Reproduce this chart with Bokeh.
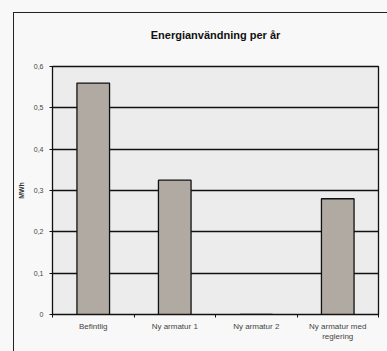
from bokeh.plotting import figure
from bokeh.models import FixedTicker, CustomJSTickFormatter, Range1d, Title
from bokeh.embed import file_html
from bokeh.resources import INLINE

# Annual energy use per lighting alternative (MWh)
title_text = "Energianvändning per år"
categories = ["Befintlig", "Ny armatur 1", "Ny armatur 2", "Ny armatur med\nreglering"]
energy_mwh = [0.56, 0.325, 0.0, 0.28]
y_ticks = [0.0, 0.1, 0.2, 0.3, 0.4, 0.5, 0.6]

positions = [i + 0.5 for i in range(len(categories))]
boundaries = [float(i) for i in range(len(categories) + 1)]

p = figure(
    width=374, height=339, title=None,
    output_backend="svg", toolbar_location=None,
    x_range=Range1d(0, len(categories)), y_range=Range1d(0, 0.6),
    min_border_left=35, min_border_right=10, min_border_top=53, min_border_bottom=38,
    background_fill_color="#ececec", border_fill_color="#f8f8f8",
)
p.margin = (12, 0, 0, 13)
p.styles = {"border-left": "1.5px solid #222", "border-top": "1.5px solid #222"}

# empty strip between the title and the plot area, then the title itself
p.add_layout(Title(text=" ", text_font_size="1px", standoff=10), "above")
p.add_layout(Title(
    text=title_text, align="center", standoff=26,
    text_font="Liberation Sans", text_font_style="bold",
    text_font_size="11px", text_color="#111111",
), "above")

p.outline_line_color = "#111111"
p.outline_line_width = 1.3

# gridlines
p.xgrid.grid_line_color = None
p.ygrid.ticker = FixedTicker(ticks=y_ticks)
p.ygrid.grid_line_color = "#111111"
p.ygrid.grid_line_width = 1.3

p.vbar(x=positions, top=energy_mwh, width=0.4,
       fill_color="#b1aaa3", line_color="#111111", line_width=1.3)

# y axis
p.yaxis.ticker = FixedTicker(ticks=y_ticks)
p.yaxis.formatter = CustomJSTickFormatter(
    code='return tick === 0 ? "0" : tick.toFixed(1).replace(".", ",");')
p.yaxis.axis_label = "MWh"
p.yaxis.axis_label_text_font = "Liberation Sans"
p.yaxis.axis_label_text_font_size = "7px"
p.yaxis.axis_label_text_font_style = "bold"
p.yaxis.axis_label_text_color = "#333333"
p.yaxis.axis_label_standoff = 6
p.yaxis.major_label_text_font = "Liberation Sans"
p.yaxis.major_label_text_font_size = "7px"
p.yaxis.major_label_text_color = "#444444"
p.yaxis.major_label_standoff = 6
p.yaxis.major_tick_out = 3
p.yaxis.major_tick_in = 0
p.yaxis.minor_tick_line_color = None
p.yaxis.axis_line_color = "#111111"
p.yaxis.major_tick_line_color = "#111111"

# x axis: labels at bar centres, tick marks at category boundaries
p.xaxis.ticker = FixedTicker(ticks=positions, minor_ticks=boundaries)
p.xaxis.major_label_overrides = {pos: lab for pos, lab in zip(positions, categories)}
p.xaxis.major_label_text_font = "Liberation Sans"
p.xaxis.major_label_text_font_size = "8px"
p.xaxis.major_label_text_color = "#444444"
p.xaxis.major_label_standoff = 4
p.xaxis.major_tick_out = 0
p.xaxis.major_tick_in = 0
p.xaxis.minor_tick_out = 3
p.xaxis.minor_tick_in = 0
p.xaxis.minor_tick_line_color = "#111111"
p.xaxis.axis_line_color = "#111111"

html = file_html(p, INLINE)
html = html.replace("<body>", '<body style="margin:0;background:#f8f8f8;">')
open("out.html", "w").write(html)
